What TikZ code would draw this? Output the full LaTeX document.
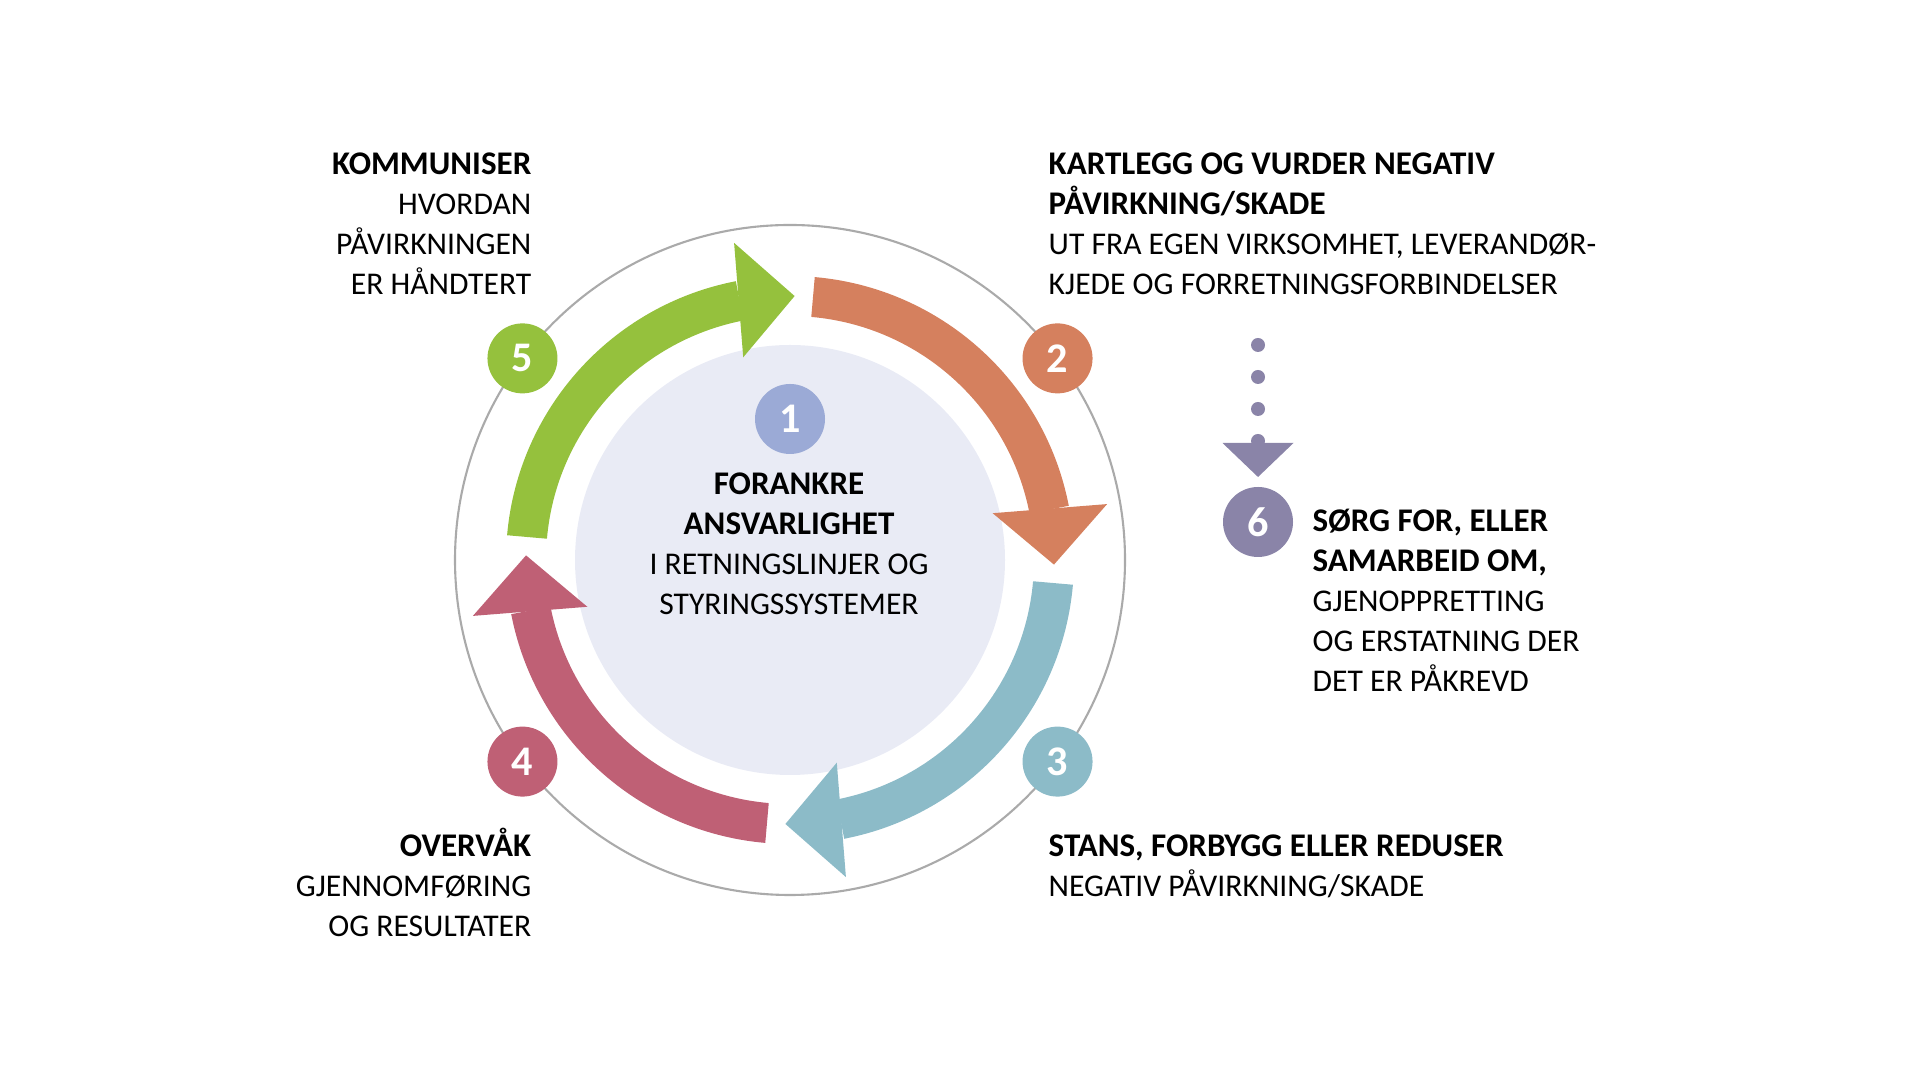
\documentclass[tikz,border=0pt]{standalone}
\usepackage{fontspec}
\setmainfont{Carlito}
\usepackage{tikz}

\definecolor{stepgreen}{HTML}{95C13D}
\definecolor{steporange}{HTML}{D5805E}
\definecolor{stepblue}{HTML}{8CBBC8}
\definecolor{stepred}{HTML}{BF6075}
\definecolor{stepviolet}{HTML}{8A84A8}
\definecolor{corefill}{HTML}{E9EBF5}
\definecolor{coreblue}{HTML}{9BAAD6}
\definecolor{ringgray}{HTML}{AAAAAA}

\newcommand{\stephead}[1]{{\fontsize{9.4}{11.4}\selectfont\bfseries #1}}

\begin{document}
\begin{tikzpicture}
\tikzstyle{every node}=[inner sep=0pt]
\tikzstyle{steptext}=[font=\fontsize{9}{11.4}\selectfont]
\tikzstyle{badge}=[circle,minimum size=7mm,text=white,font=\fontsize{12}{12}\selectfont\bfseries]
\tikzstyle{ring}=[draw=ringgray,line width=0.6pt]
\tikzstyle{dotrow}=[draw=stepviolet,line width=1.4mm,line cap=round,dash pattern=on 0pt off 3.2mm]

\useasboundingbox (0,0) rectangle (19.2,10.8);
\coordinate (C) at (7.9,5.2);
\draw[ring] (C) circle[radius=3.35];
\fill[corefill] (C) circle[radius=2.15];

\begin{scope}[shift={(C)}]
\foreach \a/\col in {175/stepgreen,85/steporange,-5/stepblue,-95/stepred}{
\fill[\col] (\a:2.84) arc[start angle=\a,delta angle=-74,radius=2.84]
 -- ({\a-74}:2.44) arc[start angle={\a-74},delta angle=74,radius=2.44] -- cycle;
\fill[\col] ({\a-75}:3.22) -- ({\a-86}:2.64) -- ({\a-72}:2.08) -- cycle;
}
\end{scope}

\node[badge,fill=coreblue] (b1) at ([yshift=1.41cm]C) {1};
\node[badge,fill=steporange] (b2) at ([shift={(37:3.35)}]C) {2};
\node[badge,fill=stepblue] (b3) at ([shift={(-37:3.35)}]C) {3};
\node[badge,fill=stepred] (b4) at ([shift={(-143:3.35)}]C) {4};
\node[badge,fill=stepgreen] (b5) at ([shift={(143:3.35)}]C) {5};
\node[badge,fill=stepviolet] (b6) at (12.58,5.58) {6};

\coordinate (dtop) at (12.58,7.35);
\coordinate (dbot) at (12.58,6.39);
\coordinate (tri) at (12.58,6.37);
\draw[dotrow] (dtop) -- (dbot);
\fill[stepviolet] (tri) ++(-0.355,0) -- ++(0.71,0) -- ++(-0.355,-0.34) -- cycle;

\node[steptext,anchor=base,align=center] (t1) at (7.89,4.65)
 {\stephead{FORANKRE}\\\stephead{ANSVARLIGHET}\\I RETNINGSLINJER OG\\STYRINGSSYSTEMER};
\node[steptext,anchor=base west,align=left] (t2) at (10.48,7.85)
 {\stephead{KARTLEGG OG VURDER NEGATIV}\\\stephead{PÅVIRKNING/SKADE}\\UT FRA EGEN VIRKSOMHET, LEVERANDØR-\\KJEDE OG FORRETNINGSFORBINDELSER};
\node[steptext,anchor=base west,align=left] (t3) at (10.48,1.83)
 {\stephead{STANS, FORBYGG ELLER REDUSER}\\NEGATIV PÅVIRKNING/SKADE};
\node[steptext,anchor=base east,align=right] (t4) at (5.32,1.43)
 {\stephead{OVERVÅK}\\GJENNOMFØRING\\OG RESULTATER};
\node[steptext,anchor=base east,align=right] (t5) at (5.32,7.85)
 {\stephead{KOMMUNISER}\\HVORDAN\\PÅVIRKNINGEN\\ER HÅNDTERT};
\node[steptext,anchor=base west,align=left] (t6) at (13.12,3.88)
 {\stephead{SØRG FOR, ELLER}\\\stephead{SAMARBEID OM,}\\GJENOPPRETTING\\OG ERSTATNING DER\\DET ER PÅKREVD};
\end{tikzpicture}
\end{document}
